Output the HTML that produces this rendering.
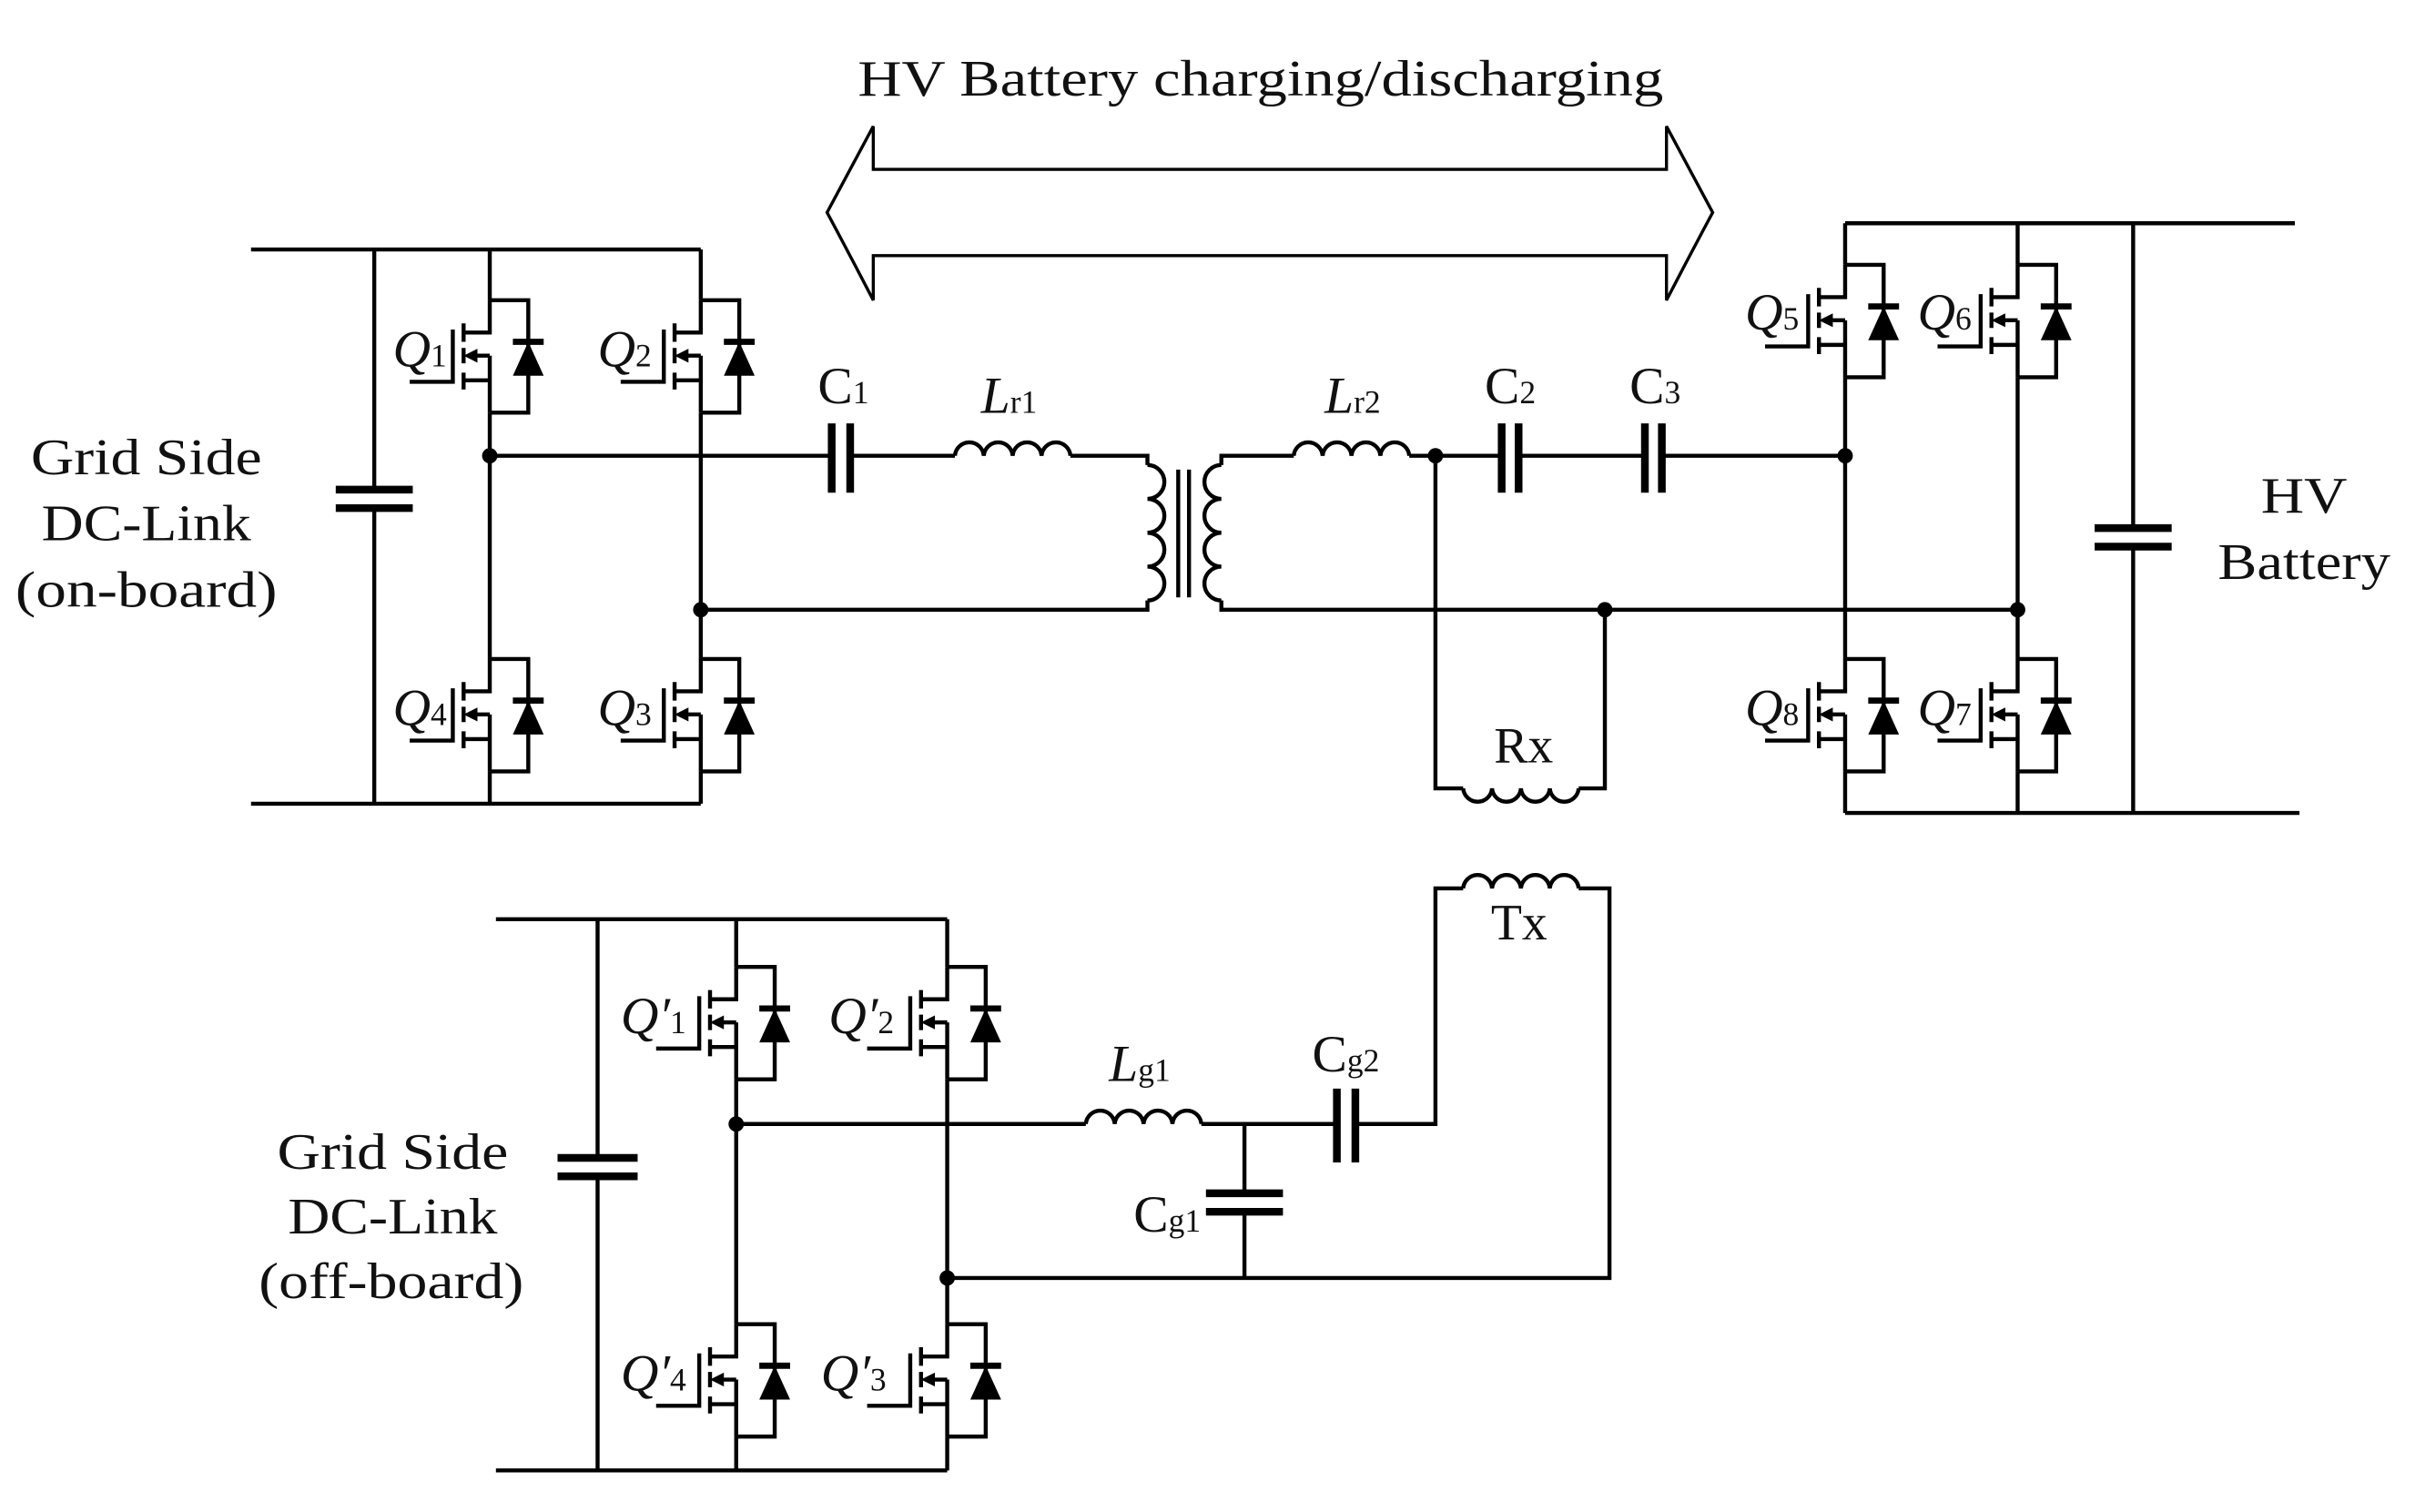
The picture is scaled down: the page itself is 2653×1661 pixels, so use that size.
<!DOCTYPE html>
<html><head><meta charset="utf-8"><style>
html,body{margin:0;padding:0;background:#fff;}
svg{display:block;}
text{font-family:"Liberation Serif",serif;fill:#111;}
</style></head><body>
<svg width="2653" height="1661" viewBox="0 0 1568 982" preserveAspectRatio="none" xmlns="http://www.w3.org/2000/svg">
<defs>
<g id="m" fill="none" stroke="#000" stroke-width="2.6">
<path d="M0,0 V21 H-17 M0,36 V73 M-17,15 V27 M-17,31 V41 M-17,47 V58 M0,52 H-17 M0,36 H-10 M-24,19 V53 H-52 M0,0 H25 V73 H0"/>
<polygon points="-17,36 -8,31.5 -8,40.5" fill="#000" stroke="none"/>
<path d="M15,27 H35" stroke-width="4"/>
<polygon points="25,27 15,49 35,49" fill="#000" stroke="none"/>
</g>
</defs>
<g fill="none" stroke="#000" stroke-width="2.6">
<path d="M567,110 V82 Q552,110 537,138 Q552,166 567,195 V166 H1082 V195 Q1097,166 1112,138 Q1097,110 1082,82 V110 Z" stroke-width="2"/>
<path d="M163,162 H455 M163,522 H455 M243,162 V318 M243,330 V522 M318,162 V195 M318,268 V428 M318,501 V522 M455,162 V195 M455,268 V428 M455,501 V522"/>
<path d="M218,318 H268 M218,330 H268" stroke-width="5"/>
<path d="M318,296 H540 M552,296 H620 M695,296 H745 V302 M745,390 V396 H455"/>
<path d="M540,275 V320 M552,275 V320" stroke-width="5"/>
<path d="M620,296 a9.4,9.4 0 0 1 18.75,0 a9.4,9.4 0 0 1 18.75,0 a9.4,9.4 0 0 1 18.75,0 a9.4,9.4 0 0 1 18.75,0"/>
<path d="M745,302 a11,11 0 0 1 0,22 a11,11 0 0 1 0,22 a11,11 0 0 1 0,22 a11,11 0 0 1 0,22"/>
<path d="M793,302 a11,11 0 0 0 0,22 a11,11 0 0 0 0,22 a11,11 0 0 0 0,22 a11,11 0 0 0 0,22"/>
<path d="M765,305 V388 M772,305 V388"/>
<path d="M793,302 V296 H840 M915,296 H975 M986,296 H1068 M1079,296 H1198 M793,390 V396 H1310"/>
<path d="M840,296 a9.4,9.4 0 0 1 18.75,0 a9.4,9.4 0 0 1 18.75,0 a9.4,9.4 0 0 1 18.75,0 a9.4,9.4 0 0 1 18.75,0"/>
<path d="M975,275 V320 M986,275 V320 M1068,275 V320 M1079,275 V320" stroke-width="5"/>
<path d="M932,296 V512 H950 M1025,512 H1042 V396"/>
<path d="M950,512 a9.4,9.4 0 0 0 18.75,0 a9.4,9.4 0 0 0 18.75,0 a9.4,9.4 0 0 0 18.75,0 a9.4,9.4 0 0 0 18.75,0"/>
<path d="M1198,145 H1490 M1198,528 H1493 M1198,145 V172 M1198,245 V428 M1198,501 V528 M1310,145 V172 M1310,245 V428 M1310,501 V528 M1385,145 V343 M1385,355 V528"/>
<path d="M1360,343 H1410 M1360,355 H1410" stroke-width="5"/>
<path d="M322,597 H615 M322,955 H615 M388,597 V752 M388,764 V955 M478,597 V628 M478,701 V860 M478,933 V955 M615,597 V628 M615,701 V860 M615,933 V955"/>
<path d="M362,752 H414 M362,764 H414" stroke-width="5"/>
<path d="M478,730 H705 M780,730 H868 M880,730 H932 V577 H950 M1025,577 H1045 V830 H615 M808,730 V775 M808,787 V830"/>
<path d="M705,730 a9.4,9.4 0 0 1 18.75,0 a9.4,9.4 0 0 1 18.75,0 a9.4,9.4 0 0 1 18.75,0 a9.4,9.4 0 0 1 18.75,0"/>
<path d="M950,577 a9.4,9.4 0 0 1 18.75,0 a9.4,9.4 0 0 1 18.75,0 a9.4,9.4 0 0 1 18.75,0 a9.4,9.4 0 0 1 18.75,0"/>
<path d="M868,707 V755 M880,707 V755 M783,775 H833 M783,787 H833" stroke-width="5"/>
</g>
<g fill="#000">
<circle cx="318" cy="296" r="5"/><circle cx="455" cy="396" r="5"/><circle cx="932" cy="296" r="5"/><circle cx="1042" cy="396" r="5"/><circle cx="1198" cy="296" r="5"/><circle cx="1310" cy="396" r="5"/><circle cx="478" cy="730" r="5"/><circle cx="615" cy="830" r="5"/>
</g>
<use href="#m" x="318" y="195"/><use href="#m" x="455" y="195"/>
<use href="#m" x="318" y="428"/><use href="#m" x="455" y="428"/>
<use href="#m" x="1198" y="172"/><use href="#m" x="1310" y="172"/>
<use href="#m" x="1198" y="428"/><use href="#m" x="1310" y="428"/>
<use href="#m" x="478" y="628"/><use href="#m" x="615" y="628"/>
<use href="#m" x="478" y="860"/><use href="#m" x="615" y="860"/>
<g font-size="33">
<text x="557" y="62" textLength="523" lengthAdjust="spacingAndGlyphs">HV Battery charging/discharging</text>
<text x="20" y="308" textLength="150" lengthAdjust="spacingAndGlyphs">Grid Side</text>
<text x="27" y="351" textLength="136" lengthAdjust="spacingAndGlyphs">DC-Link</text>
<text x="10" y="394" textLength="170" lengthAdjust="spacingAndGlyphs">(on-board)</text>
<text x="1468" y="333" textLength="56" lengthAdjust="spacingAndGlyphs">HV</text>
<text x="1440" y="376" textLength="112" lengthAdjust="spacingAndGlyphs">Battery</text>
<text x="180" y="759" textLength="150" lengthAdjust="spacingAndGlyphs">Grid Side</text>
<text x="187" y="801" textLength="136" lengthAdjust="spacingAndGlyphs">DC-Link</text>
<text x="168" y="843" textLength="172" lengthAdjust="spacingAndGlyphs">(off-board)</text>
<text x="970" y="495">Rx</text>
<text x="968" y="610">Tx</text>
</g>
<g font-size="34" font-style="italic">
<text x="255" y="238">Q<tspan font-size="21" font-style="normal">1</tspan></text>
<text x="388" y="238">Q<tspan font-size="21" font-style="normal">2</tspan></text>
<text x="255" y="471">Q<tspan font-size="21" font-style="normal">4</tspan></text>
<text x="388" y="471">Q<tspan font-size="21" font-style="normal">3</tspan></text>
<text x="1133" y="214">Q<tspan font-size="21" font-style="normal">5</tspan></text>
<text x="1245" y="214">Q<tspan font-size="21" font-style="normal">6</tspan></text>
<text x="1133" y="471">Q<tspan font-size="21" font-style="normal">8</tspan></text>
<text x="1245" y="471">Q<tspan font-size="21" font-style="normal">7</tspan></text>
<text x="403" y="671">Q′<tspan font-size="21" font-style="normal">1</tspan></text>
<text x="538" y="671">Q′<tspan font-size="21" font-style="normal">2</tspan></text>
<text x="403" y="903">Q′<tspan font-size="21" font-style="normal">4</tspan></text>
<text x="533" y="903">Q′<tspan font-size="21" font-style="normal">3</tspan></text>
<text x="637" y="268">L<tspan font-size="21" font-style="normal">r1</tspan></text>
<text x="860" y="268">L<tspan font-size="21" font-style="normal">r2</tspan></text>
<text x="720" y="702">L<tspan font-size="21" font-style="normal">g1</tspan></text>
</g>
<g font-size="34">
<text x="531" y="262">C<tspan font-size="21">1</tspan></text>
<text x="964" y="262">C<tspan font-size="21">2</tspan></text>
<text x="1058" y="262">C<tspan font-size="21">3</tspan></text>
<text x="852" y="696">C<tspan font-size="21">g2</tspan></text>
<text x="736" y="800">C<tspan font-size="21">g1</tspan></text>
</g>
</svg>
</body></html>
